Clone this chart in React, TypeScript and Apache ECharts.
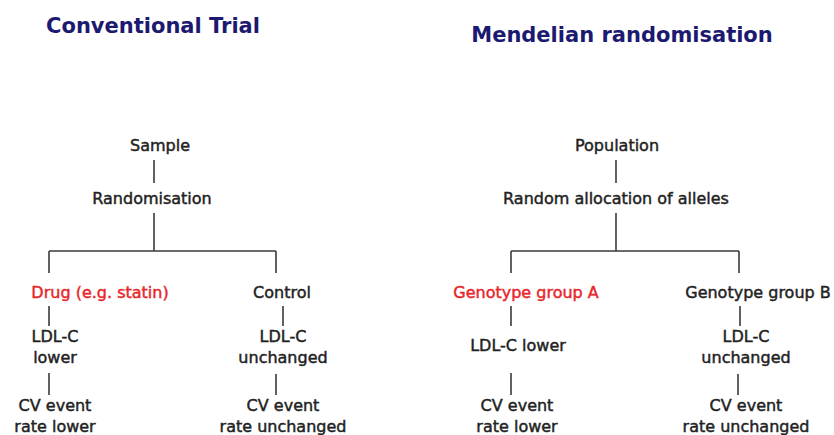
import React, { useEffect, useRef } from "react";
import * as echarts from "echarts";

// Titles
const titles = ["Conventional Trial", "Mendelian randomisation"];

// Left panel (conventional trial) labels
const leftRoot = ["Sample", "Randomisation"];
const leftArmA = ["Drug (e.g. statin)", "LDL-C\nlower", "CV event\nrate lower"];
const leftArmB = ["Control", "LDL-C\nunchanged", "CV event\nrate unchanged"];

// Right panel (Mendelian randomisation) labels
const rightRoot = ["Population", "Random allocation of alleles"];
const rightArmA = ["Genotype group A", "LDL-C lower", "CV event\nrate lower"];
const rightArmB = ["Genotype group B", "LDL-C\nunchanged", "CV event\nrate unchanged"];

const TITLE_COLOR = "#1c1a70";
const TEXT_COLOR = "#222222";
const RED = "#e8262b";
const LINE_COLOR = "#3a3a3a";
const FONT = "DejaVu Sans";

export default function App() {
  const ref = useRef<HTMLDivElement>(null);

  useEffect(() => {
    if (!ref.current) return;
    const chart = echarts.init(ref.current, undefined, { renderer: "svg" });

    const txt = (x: number, y: number, s: string, color = TEXT_COLOR) => ({
      type: "text",
      x,
      y,
      style: {
        text: s,
        fill: color,
        stroke: color,
        lineWidth: 0.45,
        font: `normal 16px "${FONT}"`,
        textAlign: "center",
        textVerticalAlign: "middle",
        lineHeight: 21,
      },
    });
    const ln = (x1: number, y1: number, x2: number, y2: number) => ({
      type: "line",
      shape: { x1, y1, x2, y2 },
      style: { stroke: LINE_COLOR, lineWidth: 1.6 },
    });
    const title = (x: number, y: number, s: string) => ({
      type: "text",
      x,
      y,
      style: {
        text: s,
        fill: TITLE_COLOR,
        font: `bold 21px "${FONT}"`,
        textAlign: "center",
        textVerticalAlign: "middle",
      },
    });

    const graphic: any[] = [
      title(153, 26, titles[0]),
      title(622, 35, titles[1]),

      // left panel
      txt(160, 145, leftRoot[0]),
      ln(154, 160, 154, 183),
      txt(152, 198, leftRoot[1]),
      ln(154, 213, 154, 251),
      ln(49, 251, 276, 251),
      ln(49, 251, 49, 273),
      ln(276, 251, 276, 273),
      txt(100, 292, leftArmA[0], RED),
      txt(282, 292, leftArmB[0]),
      ln(49, 306, 49, 326),
      ln(283, 306, 283, 326),
      txt(55, 347, leftArmA[1]),
      txt(283, 347, leftArmB[1]),
      ln(49, 373, 49, 395),
      ln(276, 374, 276, 395),
      txt(55, 416, leftArmA[2]),
      txt(283, 416, leftArmB[2]),

      // right panel
      txt(617, 145, rightRoot[0]),
      ln(616, 160, 616, 183),
      txt(616, 198, rightRoot[1]),
      ln(616, 213, 616, 251),
      ln(511, 251, 739, 251),
      ln(511, 251, 511, 273),
      ln(739, 251, 739, 273),
      txt(526, 292, rightArmA[0], RED),
      txt(758, 292, rightArmB[0]),
      ln(511, 306, 511, 326),
      ln(740, 306, 740, 326),
      txt(518, 345, rightArmA[1]),
      txt(746, 347, rightArmB[1]),
      ln(511, 373, 511, 395),
      ln(738, 374, 738, 395),
      txt(517, 416, rightArmA[2]),
      txt(746, 416, rightArmB[2]),
    ];

    chart.setOption({
      animation: false,
      backgroundColor: "#ffffff",
      graphic: graphic,
    });
    return () => chart.dispose();
  }, []);

  return (
    <div
      ref={ref}
      style={{ position: "fixed", left: 0, top: 0, width: 834, height: 435, background: "#fff" }}
    />
  );
}
